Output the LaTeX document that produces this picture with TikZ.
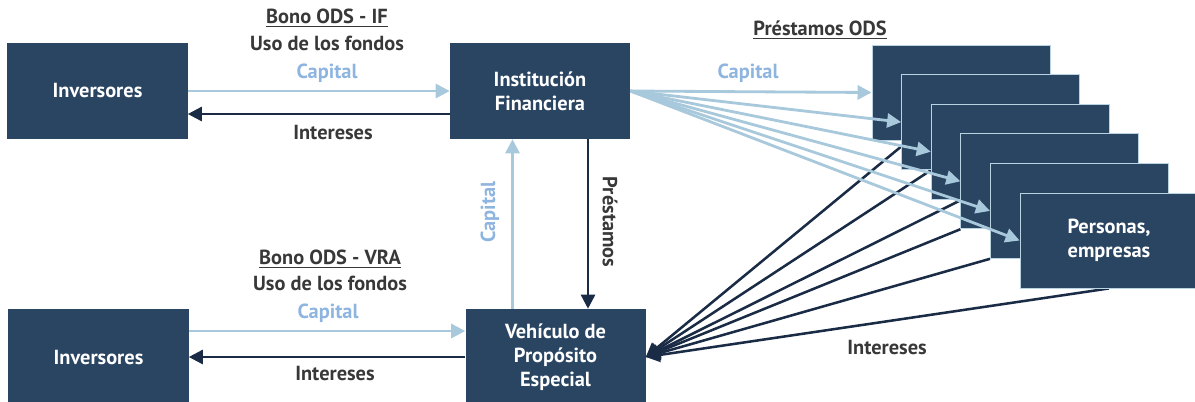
\documentclass[tikz,border=0pt]{standalone}
\usepackage{fontspec}
\setmainfont{PT Sans}
\usetikzlibrary{arrows.meta,calc,backgrounds}

\definecolor{azul}{HTML}{2A4562}
\definecolor{celeste}{HTML}{A8C8DC}
\definecolor{capt}{HTML}{8EB4E0}
\definecolor{oscuro}{HTML}{1A2B45}
\definecolor{gris}{HTML}{383838}

\tikzset{
  caja/.style={fill=azul, text=white, font=\bfseries\fontsize{14.5}{17}\selectfont,
    minimum width=45mm, minimum height=24mm, align=center, inner sep=0pt},
  pila/.style={caja, draw=celeste!80, line width=0.6pt, minimum width=44.5mm, minimum height=23.75mm},
  capital/.style={celeste, line width=2pt, -{Triangle[length=10pt,width=10pt]}},
  interes/.style={oscuro, line width=1.8pt, -{Triangle[length=10pt,width=10pt]}},
  etq/.style={font=\bfseries\fontsize{14.5}{17}\selectfont, text=gris},
}

\begin{document}
\begin{tikzpicture}[x=0.25mm,y=-0.25mm]
  \useasboundingbox (0,0) rectangle (1195,401);

  \node[caja] (inv1) at (97.5,91) {Inversores};
  \node[caja] (inst) at (540,91) {Institución\\Financiera};
  \node[caja] (inv2) at (98.5,357) {Inversores};
  \node[caja] (vra) at (555.5,357) {Vehículo de\\Propósito\\Especial};

  % pila de prestatarios
  \foreach \i in {1,...,5}
    \node[pila] (p\i) at ({961+29.6*(\i-1)},{92.5+29.6*(\i-1)}) {};
  \node[pila] (p6) at (1109,240.5) {Personas,\\empresas};

  % bono IF
  \draw[capital] (inv1.east) -- (inst.west);
  \draw[interes] ([yshift=-5.75mm]inst.west) -- ([yshift=-5.75mm]inv1.east);
  \node[etq] at (327,18) {\underline{Bono ODS - IF}};
  \node[etq] at (327,43) {Uso de los fondos};
  \node[etq, text=capt] at (327,73) {Capital};
  \node[etq] at (333,133) {Intereses};

  % bono VRA
  \draw[capital] ([yshift=6.5mm]inv2.east) -- ([yshift=6.5mm]vra.west);
  \draw[interes] (vra.west) -- (inv2.east);
  \node[etq] at (330,259) {\underline{Bono ODS - VRA}};
  \node[etq] at (330,283) {Uso de los fondos};
  \node[etq, text=capt] at (328,313) {Capital};
  \node[etq] at (335,373) {Intereses};

  % entre IF y VRA
  \draw[capital] ([xshift=-10.75mm]vra.north) -- ([xshift=-10.75mm]vra.north |- inst.south);
  \draw[interes] ([xshift=12mm]inst.south) -- ([xshift=12mm]inst.south |- vra.north);
  \node[etq, text=capt, rotate=90] at (490,212) {Capital};
  \node[etq, rotate=-90] at (610,222) {Préstamos};

  % préstamos ODS
  \node[etq] at (820,30) {\underline{Préstamos ODS}};
  \node[etq, text=capt] at (748,73) {Capital};
  \node[etq] at (887,347) {Intereses};
  \foreach \i in {1,...,6}
    \draw[capital] (inst.east) -- (p\i.west);

  \begin{pgfonlayer}{background}
    \foreach \n/\dx in {1/37, 2/30, 3/31, 4/0, 5/0}
      \draw[interes] ($(p\n.south west)+(\dx,0)$) -- (vra.east);
    \draw[interes] (p6.south) -- (vra.east);
  \end{pgfonlayer}
\end{tikzpicture}
\end{document}
